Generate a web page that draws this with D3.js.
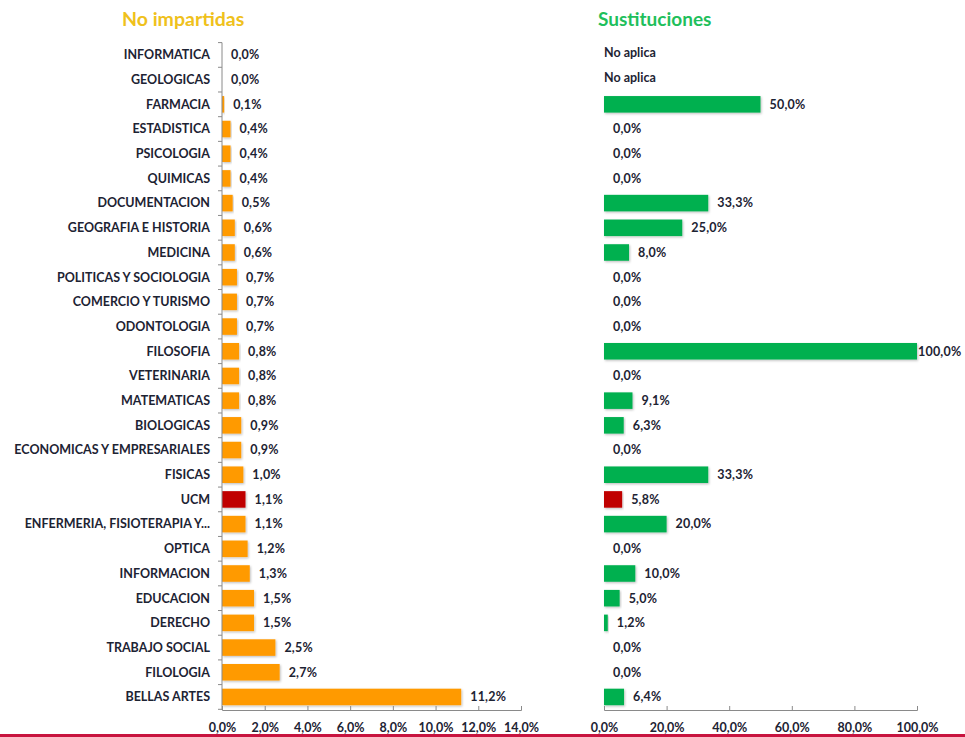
<!DOCTYPE html>
<html>
<head>
<meta charset="utf-8">
<script src="https://cdn.jsdelivr.net/npm/d3@7"></script>
<style>
  html, body { margin:0; padding:0; background:#fff; }
  svg { display:block; font-family: Lato, "Open Sans", sans-serif; }
  .lbl { font-size:12.5px; font-weight:700; fill:#1d2333; }
  .val { font-size:12.5px; letter-spacing:0.2px; }
  .axis path, .axis line { stroke:#8a8a8a; }
  .axis text { font-family: Lato, sans-serif; font-size:12.5px; font-weight:700; fill:#1d2333; }
</style>
</head>
<body>
<svg id="chart" width="965" height="737"></svg>
<script>
// categories, top to bottom
const centros = [
  "INFORMATICA","GEOLOGICAS","FARMACIA","ESTADISTICA","PSICOLOGIA","QUIMICAS",
  "DOCUMENTACION","GEOGRAFIA E HISTORIA","MEDICINA","POLITICAS Y SOCIOLOGIA",
  "COMERCIO Y TURISMO","ODONTOLOGIA","FILOSOFIA","VETERINARIA","MATEMATICAS",
  "BIOLOGICAS","ECONOMICAS Y EMPRESARIALES","FISICAS","UCM",
  "ENFERMERIA, FISIOTERAPIA Y...","OPTICA","INFORMACION","EDUCACION","DERECHO",
  "TRABAJO SOCIAL","FILOLOGIA","BELLAS ARTES"
];
// % clases no impartidas
const noImpartidas = [0.0,0.0,0.1,0.4,0.4,0.4,0.5,0.6,0.6,0.7,0.7,0.7,0.8,0.8,0.8,
  0.9,0.9,1.0,1.1,1.1,1.2,1.3,1.5,1.5,2.5,2.7,11.2];
// % sustituciones (null = "No aplica")
const sustituciones = [null,null,50.0,0.0,0.0,0.0,33.3,25.0,8.0,0.0,0.0,0.0,100.0,0.0,
  9.1,6.3,0.0,33.3,5.8,20.0,0.0,10.0,5.0,1.2,0.0,0.0,6.4];
const ticksL = [0,2,4,6,8,10,12,14];
const ticksR = [0,20,40,60,80,100];

const pct = v => d3.format(".1f")(v).replace(".", ",") + "%";
const ORANGE = "#ff9a00", GREEN = "#00b050", RED = "#c00000";

const svg = d3.select("#chart");

// faint shadow like the excel bars
const defs = svg.append("defs");
const f = defs.append("filter").attr("id","sh").attr("x","-5%").attr("y","-20%").attr("width","115%").attr("height","160%");
f.append("feDropShadow").attr("dx",1).attr("dy",1.2).attr("stdDeviation",0.8).attr("flood-color","#000").attr("flood-opacity",0.25);

const y = d3.scaleBand().domain(centros).range([42.6, 709.3]).paddingInner(0.33).paddingOuter(0.165);
const axisY = 710;

const xL = d3.scaleLinear().domain([0,14]).range([222, 521]);
const xR = d3.scaleLinear().domain([0,100]).range([604, 917]);

// titles
svg.append("text").attr("x",122).attr("y",26).text("No impartidas")
  .style("font-size","19.5px").style("font-weight",700).style("fill","#efc11c");
svg.append("text").attr("x",598).attr("y",26).text("Sustituciones")
  .style("font-size","19px").style("font-weight",700).style("fill","#1fbf5c");

// ---- left chart
const gL = svg.append("g");
gL.selectAll("rect").data(centros).join("rect")
  .attr("x", xL(0))
  .attr("y", d => y(d))
  .attr("width", (d,i) => xL(noImpartidas[i]) - xL(0))
  .attr("height", y.bandwidth())
  .attr("fill", d => d === "UCM" ? RED : ORANGE)
  .attr("filter","url(#sh)");

gL.selectAll("text.val").data(centros).join("text")
  .attr("class","lbl val")
  .attr("x", (d,i) => xL(noImpartidas[i]) + 9)
  .attr("y", d => y(d) + y.bandwidth()/2)
  .attr("dy","0.35em")
  .text((d,i) => pct(noImpartidas[i]));

gL.selectAll("text.cat").data(centros).join("text")
  .attr("class","lbl cat")
  .attr("x", 210)
  .attr("y", d => y(d) + y.bandwidth()/2)
  .attr("dy","0.35em")
  .attr("text-anchor","end")
  .text(d => d);

// vertical category axis with ticks between bands
const step = y.step();
const yLine = gL.append("g").attr("class","axis");
yLine.append("line").attr("x1",xL(0)).attr("x2",xL(0)).attr("y1",42.6).attr("y2",axisY);
yLine.selectAll("line.t").data(d3.range(centros.length + 1)).join("line")
  .attr("class","t")
  .attr("x1",xL(0) - 4).attr("x2",xL(0))
  .attr("y1", i => 42.6 + i*step).attr("y2", i => 42.6 + i*step);

const axL = d3.axisBottom(xL).tickValues(ticksL).tickSize(-4).tickFormat(pct);
gL.append("g").attr("class","axis").attr("transform",`translate(0,${axisY})`).call(axL)
  .call(g => g.selectAll(".tick text").attr("y", 22).attr("dy", null));

// ---- right chart
const gR = svg.append("g");
gR.selectAll("rect").data(centros.filter((d,i) => sustituciones[i] !== null)).join("rect")
  .attr("x", xR(0))
  .attr("y", d => y(d))
  .attr("width", d => xR(sustituciones[centros.indexOf(d)]) - xR(0))
  .attr("height", y.bandwidth())
  .attr("fill", d => d === "UCM" ? RED : GREEN)
  .attr("filter","url(#sh)");

gR.selectAll("text.val").data(centros).join("text")
  .attr("class","lbl val")
  .attr("x", (d,i) => sustituciones[i] === null ? xR(0) : Math.min(xR(sustituciones[i]) + 9, 918))
  .attr("y", (d,i) => y(d) + y.bandwidth()/2 + (sustituciones[i] === null ? -2 : 0))
  .attr("dy","0.35em")
  .style("letter-spacing", (d,i) => sustituciones[i] === null ? "0" : null)
  .text((d,i) => sustituciones[i] === null ? "No aplica" : pct(sustituciones[i]));

const axR = d3.axisBottom(xR).tickValues(ticksR).tickSize(-4).tickFormat(pct);
gR.append("g").attr("class","axis").attr("transform",`translate(0,${axisY})`).call(axR)
  .call(g => g.selectAll(".tick text").attr("y", 22).attr("dy", null));

// bottom rule
svg.append("rect").attr("x",0).attr("y",734).attr("width",965).attr("height",3).attr("fill","#c8143f");
</script>
</body>
</html>
